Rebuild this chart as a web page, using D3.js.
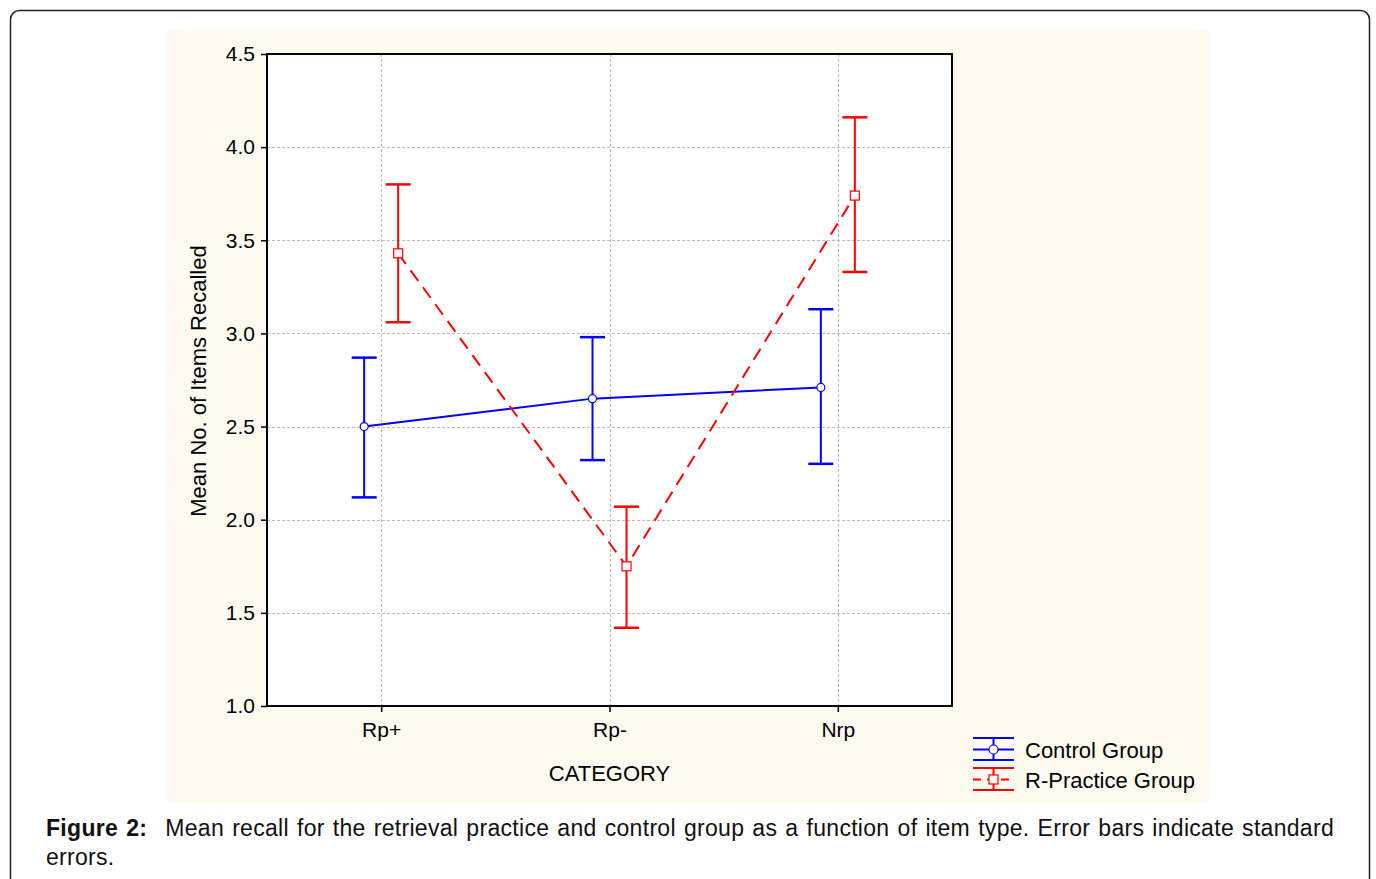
<!DOCTYPE html>
<html>
<head>
<meta charset="utf-8">
<script src="https://cdn.jsdelivr.net/npm/d3@7"></script>
<style>
  body { margin: 0; background: #fff; font-family: "Liberation Sans", Arial, sans-serif; }
  #wrap { position: relative; width: 1376px; height: 879px; overflow: hidden; }
  #caption {
    position: absolute; left: 46px; top: 814px; width: 1288px;
    font-size: 23px; line-height: 29px; color: #111;
    letter-spacing: 0.3px;
  }
  #caption .l1 { text-align: justify; text-align-last: justify; white-space: nowrap; }
  #caption b { margin-right: 10px; }
</style>
</head>
<body>
<div id="wrap">
  <svg id="chart" width="1376" height="879"></svg>
  <div id="caption">
    <div class="l1"><b>Figure 2:</b> <span>Mean recall for the retrieval practice and control group as a function of item type. Error bars indicate standard</span></div>
    <div>errors.</div>
  </div>
</div>
<script>
// data
const categories = ["Rp+", "Rp-", "Nrp"];
const controlMean = [2.50, 2.65, 2.71];
const controlLow = [2.12, 2.32, 2.30];
const controlHigh = [2.87, 2.98, 3.13];
const practiceMean = [3.43, 1.75, 3.74];
const practiceLow = [3.06, 1.42, 3.33];
const practiceHigh = [3.80, 2.07, 4.16];
const yTicks = [1.0, 1.5, 2.0, 2.5, 3.0, 3.5, 4.0, 4.5];

const svg = d3.select("#chart");

// outer frame of the figure
svg.append("rect")
  .attr("x", 10.5).attr("y", 10.5)
  .attr("width", 1359).attr("height", 900)
  .attr("rx", 9).attr("ry", 9)
  .style("fill", "none")
  .style("stroke", "#222")
  .style("stroke-width", 1.5);

// beige chart background
svg.append("rect")
  .attr("x", 167).attr("y", 30)
  .attr("width", 1042).attr("height", 773)
  .style("fill", "#fffaf0");

const margin = { top: 54, left: 267, right: 952, bottom: 706 };

const x = d3.scalePoint()
  .domain(categories)
  .range([margin.left, margin.right])
  .padding(0.5);

const y = d3.scaleLinear()
  .domain([1.0, 4.5])
  .range([margin.bottom, margin.top]);

// plot area
svg.append("rect")
  .attr("x", margin.left).attr("y", margin.top)
  .attr("width", margin.right - margin.left)
  .attr("height", margin.bottom - margin.top)
  .style("fill", "#fff");

// grid lines
svg.append("g")
  .selectAll("line")
  .data(yTicks.slice(1, -1))
  .enter()
  .append("line")
  .attr("x1", margin.left).attr("x2", margin.right)
  .attr("y1", d => Math.round(y(d)) + 0.5).attr("y2", d => Math.round(y(d)) + 0.5)
  .style("stroke", "#bbb")
  .style("stroke-dasharray", "3,2");

svg.append("g")
  .selectAll("line")
  .data(categories)
  .enter()
  .append("line")
  .attr("x1", d => Math.round(x(d)) + 0.5).attr("x2", d => Math.round(x(d)) + 0.5)
  .attr("y1", margin.top).attr("y2", margin.bottom)
  .style("stroke", "#bbb")
  .style("stroke-dasharray", "3,2");

// axes
const yAxis = svg.append("g")
  .attr("transform", "translate(" + margin.left + ",0)")
  .call(d3.axisLeft(y).tickValues(yTicks).tickFormat(d3.format(".1f")).tickSize(6).tickPadding(6));
yAxis.select(".domain").remove();
yAxis.selectAll("line").style("stroke", "#000").style("stroke-width", 1.5);
yAxis.selectAll("text")
  .style("font-family", "Liberation Sans, Arial, sans-serif")
  .style("font-size", "21px")
  .style("fill", "#000");

const xAxis = svg.append("g")
  .attr("transform", "translate(0," + margin.bottom + ")")
  .call(d3.axisBottom(x).tickSize(6).tickPadding(10));
xAxis.select(".domain").remove();
xAxis.selectAll("line").style("stroke", "#000").style("stroke-width", 1.5);
xAxis.selectAll("text")
  .style("font-family", "Liberation Sans, Arial, sans-serif")
  .style("font-size", "21px")
  .style("fill", "#000");

svg.append("rect")
  .attr("x", margin.left).attr("y", margin.top)
  .attr("width", margin.right - margin.left)
  .attr("height", margin.bottom - margin.top)
  .style("fill", "none")
  .style("stroke", "#000")
  .style("stroke-width", 2);

// axis labels
svg.append("text")
  .attr("x", x("Rp-"))
  .attr("y", 781)
  .style("text-anchor", "middle")
  .style("font-size", "22px")
  .text("CATEGORY");

svg.append("text")
  .attr("transform", "rotate(-90)")
  .attr("x", -381)
  .attr("y", 206)
  .style("text-anchor", "middle")
  .style("font-size", "22px")
  .text("Mean No. of Items Recalled");

// series
const series = [
  { name: "Control Group", mean: controlMean, low: controlLow, high: controlHigh, color: "#0000ff", dash: null, shift: -17, marker: "circle" },
  { name: "R-Practice Group", mean: practiceMean, low: practiceLow, high: practiceHigh, color: "#ff0000", dash: "13,8", shift: 17, marker: "square" }
];

series.forEach(s => {
  const g = svg.append("g");
  const pts = categories.map((c, i) => ({ cx: x(c) + s.shift, m: s.mean[i], lo: s.low[i], hi: s.high[i] }));

  // error bars
  g.selectAll(".bar").data(pts).enter().append("line")
    .attr("x1", d => d.cx).attr("x2", d => d.cx)
    .attr("y1", d => y(d.lo)).attr("y2", d => y(d.hi))
    .style("stroke", s.color).style("stroke-width", 2);
  g.selectAll(".capHi").data(pts).enter().append("line")
    .attr("x1", d => d.cx - 12.5).attr("x2", d => d.cx + 12.5)
    .attr("y1", d => y(d.hi)).attr("y2", d => y(d.hi))
    .style("stroke", s.color).style("stroke-width", 2.5);
  g.selectAll(".capLo").data(pts).enter().append("line")
    .attr("x1", d => d.cx - 12.5).attr("x2", d => d.cx + 12.5)
    .attr("y1", d => y(d.lo)).attr("y2", d => y(d.lo))
    .style("stroke", s.color).style("stroke-width", 2.5);

  // mean line
  const line = d3.line().x(d => d.cx).y(d => y(d.m));
  g.append("path")
    .datum(pts)
    .attr("d", line)
    .style("fill", "none")
    .style("stroke", s.color)
    .style("stroke-width", 2)
    .style("stroke-dasharray", s.dash);

  // markers
  if (s.marker === "circle") {
    g.selectAll("circle").data(pts).enter().append("circle")
      .attr("cx", d => d.cx).attr("cy", d => y(d.m)).attr("r", 4)
      .style("fill", "#fff").style("stroke", s.color).style("stroke-width", 1.2);
  } else {
    g.selectAll(".sq").data(pts).enter().append("rect")
      .attr("x", d => d.cx - 4.5).attr("y", d => y(d.m) - 4.5)
      .attr("width", 9).attr("height", 9)
      .style("fill", "#fff").style("stroke", s.color).style("stroke-width", 1.2);
  }
});

// legend
const legend = svg.append("g").attr("transform", "translate(973,738)");
const legendItems = legend.selectAll("g")
  .data(series)
  .enter()
  .append("g")
  .attr("transform", (d, i) => `translate(0, ${i * 30})`);

legendItems.each(function (s) {
  const li = d3.select(this);
  li.append("line").attr("x1", 0).attr("x2", 41).attr("y1", 0).attr("y2", 0)
    .style("stroke", s.color).style("stroke-width", 2);
  li.append("line").attr("x1", 0).attr("x2", 41).attr("y1", 22).attr("y2", 22)
    .style("stroke", s.color).style("stroke-width", 2);
  li.append("line").attr("x1", 20.5).attr("x2", 20.5).attr("y1", 0).attr("y2", 22)
    .style("stroke", s.color).style("stroke-width", 2);
  li.append("line").attr("x1", 0).attr("x2", 41).attr("y1", 11.5).attr("y2", 11.5)
    .style("stroke", s.color).style("stroke-width", 2)
    .style("stroke-dasharray", s.dash ? "8,6" : null);
  if (s.marker === "circle") {
    li.append("circle").attr("cx", 20.5).attr("cy", 11.5).attr("r", 4.5)
      .style("fill", "#fff").style("stroke", s.color).style("stroke-width", 1.2);
  } else {
    li.append("rect").attr("x", 16).attr("y", 7).attr("width", 9).attr("height", 9)
      .style("fill", "#fff").style("stroke", s.color).style("stroke-width", 1.2);
  }
  li.append("text")
    .attr("x", 52).attr("y", 20)
    .style("font-size", "22px")
    .text(s.name);
});
</script>
</body>
</html>
